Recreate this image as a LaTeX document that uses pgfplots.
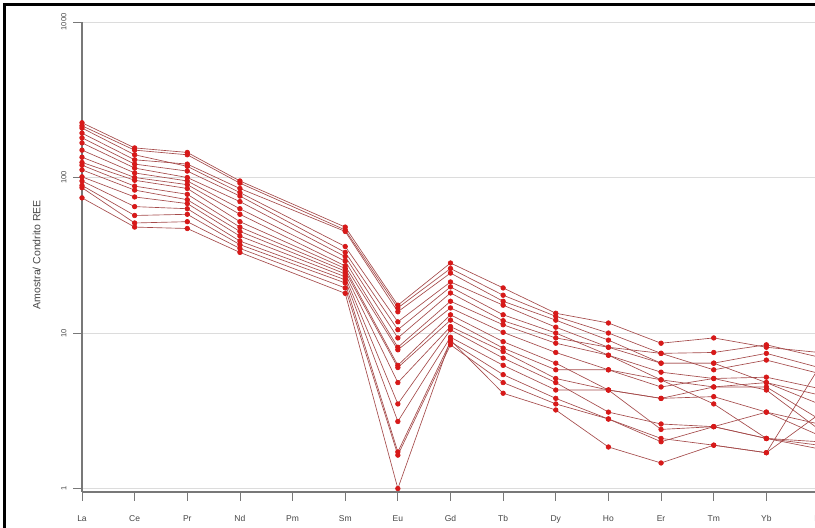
\documentclass[border=0pt]{standalone}
\usepackage{pgfplots}
\pgfplotsset{compat=1.18}
\usepackage{pgfplotstable}
\usepackage{fontspec}
\setmainfont{Liberation Sans}
\definecolor{linec}{RGB}{165,75,75}
\definecolor{markc}{RGB}{215,25,25}
\definecolor{txt}{RGB}{70,70,70}
\definecolor{axc}{RGB}{120,120,120}
\definecolor{gridc}{RGB}{220,220,220}
\pgfplotstableread{
x s1 s2 s3 s4 s5 s6 s7 s8 s9 s10 s11 s12 s13 s14 s15 s16
0 225 215 193 208 180 167 150 135 125 120 112 101 95 89 86 74
1 155 150 130 140 122 115 107 100 96 88 83 75 65 57 51 48
2 145 140 122 118 110 100 95 90 85 78 72 68 63 58 52 47
3 95 92 85 80 76 70 63 58 52 48 45 42 39 37 35 33
5 48 46 45 36 33 31 29 27 26 25 24 23 22 21 19.5 18
6 15.1 14.5 13.7 11.8 10.5 9.3 8.1 7.8 6.2 6.0 4.8 3.5 2.7 1.72 1.64 1.0
7 28.2 26 24.3 21.3 19.8 18.1 16 14.5 13.1 12.1 11 10.5 9.4 8.8 8.4 9.0
8 19.5 17.5 16 15.1 13.1 12 11.3 10.1 8.8 8 7.6 6.9 6.2 5.4 4.8 4.1
9 13.4 12.8 12.1 10.9 10 9.3 8.6 7.5 6.4 5.8 5.1 4.8 4.3 3.8 3.5 3.2
10 11.6 10 9.0 8.1 7.2 8.1 7.2 5.8 4.3 5.8 4.3 3.1 4.3 2.8 2.8 1.85
11 8.6 7.4 6.4 7.4 5.6 6.4 5.0 4.5 3.8 5.0 3.8 2.6 2.4 2.1 2.0 1.46
12 9.3 7.5 6.4 5.8 5.1 6.4 4.5 5.1 3.9 3.5 4.5 2.5 2.5 1.9 2.5 1.9
13 8.1 8.4 7.4 6.7 5.2 4.8 4.5 4.3 3.1 2.1 4.8 3.1 2.1 1.7 2.1 1.7
14 7.5 7.0 6.0 5.5 4.4 3.5 2.8 2.4 2.2 2.0 4.0 2.6 1.9 6.0 1.8 3.0
}\reedata
\begin{document}
\begin{tikzpicture}[x=1pt,y=1pt]
\path[use as bounding box] (0,0) rectangle (815,528);
\fill[white] (0,0) rectangle (815,528);
\begin{axis}[
  at={(82pt,36pt)}, anchor=south west,
  scale only axis, width=737pt, height=470pt,
  xmin=0, xmax=14, ymin=0.95, ymax=1000,
  ymode=log,
  axis lines*=left,
  axis line style={axc, line width=1.2pt},
  every inner x axis line/.append style={-},
  every inner y axis line/.append style={-},
  xtick={0,...,14},
  xticklabels={La,Ce,Pr,Nd,Pm,Sm,Eu,Gd,Tb,Dy,Ho,Er,Tm,Yb,Lu},
  ytick={1,10,100,1000},
  yticklabels={1,10,100,1000},
  minor ytick={},
  yminorticks=false,
  tick align=outside,
  major tick length=9pt,
  tick style={axc, line width=0.8pt},
  x tick label style={font=\fontsize{8.5}{9}\selectfont, text=txt, yshift=-11pt},
  y tick label style={font=\fontsize{7.5}{8}\selectfont, text=txt, rotate=90, anchor=south, yshift=3pt},
  ymajorgrids=true,
  major grid style={gridc, line width=0.6pt},
  ylabel={Amostra/ Condrito REE},
  ylabel style={font=\fontsize{10.5}{12}\selectfont, text=txt, at={(axis description cs:0,0.505)}, yshift=38pt},
  /pgf/number format/assume math mode=true,
  clip=false,
]
\pgfplotsinvokeforeach{1,...,16}{
  \addplot[color=linec, line width=0.65pt, mark=*, mark size=2.3pt,
    mark options={fill=markc, draw=markc}] table[x=x, y=s#1] {\reedata};
}
\end{axis}
\draw[black, line width=3pt] (4.5,0) -- (4.5,523.5) -- (815,523.5);
\end{tikzpicture}
\end{document}
